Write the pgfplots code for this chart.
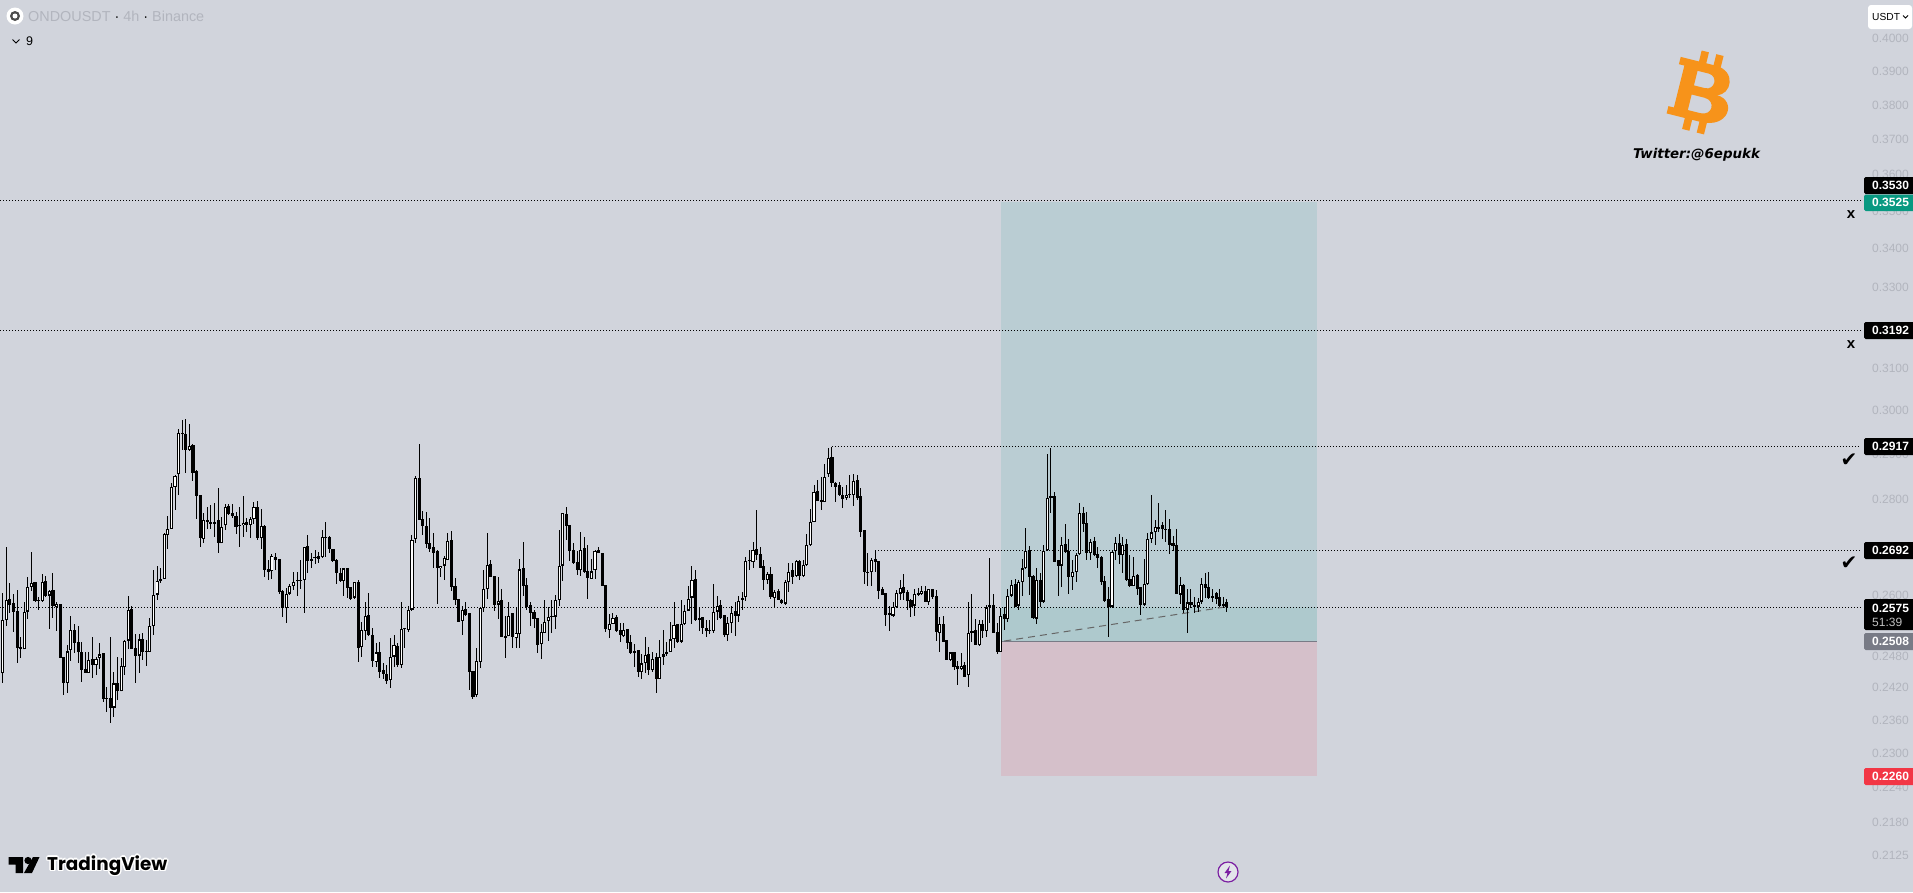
\documentclass[border=0pt]{standalone}
\usepackage{pgfplots}
\usepackage{pgfplotstable}
\usepackage{fontspec}
\pgfplotsset{compat=1.18}
\setmainfont{Liberation Sans}
\newfontfamily\dejavu{DejaVu Sans}
\newfontfamily\pop{Poppins}
\definecolor{bg}{RGB}{209,212,220}
\definecolor{tick}{RGB}{178,181,190}
\definecolor{zoneG}{RGB}{186,205,211}
\definecolor{zoneD}{RGB}{174,201,205}
\definecolor{zoneR}{RGB}{213,192,202}
\definecolor{tagG}{RGB}{8,153,129}
\definecolor{tagR}{RGB}{242,54,69}
\definecolor{tagK}{RGB}{120,123,134}
\definecolor{btc}{RGB}{247,147,26}
\definecolor{purp}{RGB}{123,31,162}
\pgfplotstableread{
i o h l c
0 .2447 .2605 .2428 .2550
1 .2550 .2699 .2538 .2590
2 .2590 .2625 .2564 .2581
3 .2582 .2603 .2526 .2566
4 .2566 .2611 .2466 .2495
5 .2496 .2517 .2477 .2495
6 .2493 .2586 .2493 .2567
7 .2567 .2637 .2553 .2617
8 .2617 .2688 .2609 .2625
9 .2626 .2626 .2587 .2589
10 .2588 .2597 .2570 .2589
11 .2588 .2642 .2587 .2627
12 .2627 .2638 .2597 .2598
13 .2599 .2610 .2533 .2608
14 .2608 .2644 .2554 .2579
15 .2577 .2587 .2529 .2583
16 .2581 .2583 .2477 .2477
17 .2477 .2477 .2406 .2428
18 .2429 .2501 .2410 .2489
19 .2491 .2558 .2471 .2531
20 .2530 .2543 .2485 .2506
21 .2506 .2539 .2466 .2487
22 .2487 .2508 .2431 .2454
23 .2454 .2487 .2448 .2448
24 .2448 .2488 .2448 .2473
25 .2473 .2516 .2438 .2462
26 .2462 .2479 .2443 .2475
27 .2477 .2506 .2456 .2483
28 .2484 .2485 .2394 .2399
29 .2399 .2422 .2375 .2401
30 .2400 .2516 .2355 .2383
31 .2383 .2449 .2366 .2428
32 .2428 .2479 .2397 .2413
33 .2413 .2476 .2413 .2461
34 .2459 .2511 .2443 .2510
35 .2510 .2599 .2493 .2571
36 .2571 .2578 .2493 .2493
37 .2495 .2522 .2429 .2481
38 .2481 .2522 .2448 .2512
39 .2512 .2524 .2472 .2487
40 .2488 .2511 .2461 .2489
41 .2488 .2555 .2488 .2539
42 .2539 .2651 .2520 .2601
43 .2601 .2659 .2590 .2629
44 .2628 .2654 .2625 .2633
45 .2633 .2727 .2633 .2725
46 .2724 .2763 .2695 .2737
47 .2737 .2835 .2737 .2827
48 .2827 .2853 .2777 .2851
49 .2855 .2957 .2810 .2948
50 .2946 .2977 .2909 .2948
51 .2943 .2979 .2858 .2909
52 .2909 .2968 .2907 .2919
53 .2920 .2922 .2841 .2858
54 .2861 .2865 .2758 .2808
55 .2808 .2808 .2699 .2718
56 .2716 .2770 .2707 .2756
57 .2754 .2783 .2737 .2751
58 .2751 .2788 .2737 .2748
59 .2748 .2791 .2720 .2751
60 .2754 .2824 .2686 .2706
61 .2706 .2762 .2706 .2741
62 .2744 .2790 .2734 .2784
63 .2785 .2790 .2766 .2768
64 .2770 .2790 .2759 .2763
65 .2763 .2772 .2726 .2741
66 .2744 .2784 .2699 .2743
67 .2744 .2808 .2720 .2750
68 .2750 .2759 .2731 .2744
69 .2745 .2762 .2718 .2757
70 .2757 .2794 .2748 .2783
71 .2783 .2796 .2714 .2717
72 .2718 .2779 .2694 .2743
73 .2742 .2744 .2637 .2651
74 .2652 .2671 .2630 .2646
75 .2648 .2683 .2633 .2679
76 .2676 .2686 .2650 .2671
77 .2672 .2672 .2603 .2606
78 .2607 .2610 .2557 .2574
79 .2573 .2615 .2545 .2603
80 .2603 .2622 .2601 .2619
81 .2618 .2647 .2610 .2627
82 .2628 .2647 .2598 .2630
83 .2630 .2671 .2613 .2631
84 .2630 .2699 .2565 .2698
85 .2700 .2723 .2644 .2670
86 .2670 .2685 .2655 .2674
87 .2675 .2693 .2664 .2677
88 .2674 .2688 .2665 .2679
89 .2678 .2735 .2677 .2719
90 .2719 .2751 .2678 .2720
91 .2719 .2721 .2686 .2694
92 .2694 .2694 .2668 .2669
93 .2671 .2674 .2623 .2644
94 .2643 .2654 .2627 .2628
95 .2628 .2654 .2598 .2654
96 .2654 .2656 .2594 .2615
97 .2615 .2617 .2590 .2593
98 .2595 .2626 .2593 .2626
99 .2626 .2630 .2469 .2496
100 .2498 .2547 .2479 .2530
101 .2529 .2586 .2511 .2558
102 .2558 .2605 .2519 .2520
103 .2520 .2534 .2459 .2471
104 .2469 .2506 .2459 .2487
105 .2487 .2507 .2439 .2450
106 .2453 .2466 .2437 .2445
107 .2445 .2462 .2427 .2433
108 .2435 .2514 .2419 .2479
109 .2479 .2521 .2459 .2501
110 .2499 .2505 .2459 .2462
111 .2463 .2586 .2458 .2533
112 .2533 .2534 .2495 .2534
113 .2531 .2578 .2527 .2571
114 .2571 .2723 .2569 .2714
115 .2716 .2851 .2707 .2846
116 .2846 .2922 .2755 .2755
117 .2756 .2774 .2724 .2742
118 .2742 .2773 .2696 .2705
119 .2705 .2759 .2688 .2695
120 .2697 .2727 .2656 .2686
121 .2690 .2692 .2583 .2654
122 .2654 .2660 .2637 .2660
123 .2660 .2679 .2630 .2675
124 .2672 .2727 .2672 .2712
125 .2712 .2733 .2609 .2617
126 .2618 .2634 .2580 .2590
127 .2590 .2593 .2547 .2547
128 .2549 .2578 .2520 .2570
129 .2570 .2587 .2558 .2561
130 .2562 .2562 .2415 .2450
131 .2451 .2451 .2399 .2403
132 .2406 .2496 .2402 .2470
133 .2469 .2575 .2457 .2574
134 .2574 .2651 .2566 .2613
135 .2613 .2727 .2593 .2662
136 .2663 .2671 .2636 .2637
137 .2638 .2638 .2569 .2580
138 .2581 .2636 .2553 .2589
139 .2589 .2613 .2516 .2517
140 .2517 .2558 .2476 .2516
141 .2518 .2587 .2518 .2559
142 .2562 .2562 .2495 .2516
143 .2514 .2575 .2495 .2525
144 .2523 .2673 .2496 .2652
145 .2654 .2708 .2598 .2618
146 .2619 .2634 .2571 .2575
147 .2579 .2587 .2538 .2565
148 .2565 .2570 .2534 .2553
149 .2553 .2555 .2485 .2502
150 .2503 .2542 .2475 .2526
151 .2525 .2591 .2525 .2547
152 .2549 .2575 .2510 .2557
153 .2557 .2591 .2525 .2558
154 .2557 .2601 .2533 .2590
155 .2590 .2735 .2579 .2660
156 .2660 .2770 .2629 .2770
157 .2768 .2783 .2713 .2743
158 .2743 .2743 .2670 .2691
159 .2692 .2706 .2664 .2666
160 .2666 .2691 .2640 .2650
161 .2650 .2730 .2638 .2693
162 .2695 .2720 .2644 .2647
163 .2647 .2702 .2593 .2635
164 .2633 .2673 .2633 .2648
165 .2650 .2693 .2633 .2691
166 .2691 .2698 .2686 .2686
167 .2685 .2685 .2618 .2619
168 .2619 .2619 .2527 .2533
169 .2531 .2563 .2514 .2543
170 .2543 .2565 .2543 .2555
171 .2555 .2560 .2527 .2529
172 .2529 .2545 .2508 .2521
173 .2518 .2545 .2516 .2531
174 .2531 .2533 .2493 .2505
175 .2505 .2520 .2484 .2485
176 .2485 .2503 .2460 .2490
177 .2491 .2492 .2441 .2450
178 .2450 .2484 .2436 .2466
179 .2466 .2516 .2448 .2482
180 .2483 .2497 .2443 .2454
181 .2454 .2488 .2450 .2475
182 .2477 .2485 .2411 .2436
183 .2437 .2511 .2437 .2479
184 .2479 .2530 .2463 .2484
185 .2484 .2508 .2480 .2488
186 .2488 .2547 .2488 .2512
187 .2512 .2586 .2496 .2541
188 .2542 .2542 .2506 .2508
189 .2508 .2590 .2505 .2543
190 .2543 .2580 .2542 .2569
191 .2569 .2619 .2569 .2593
192 .2595 .2659 .2543 .2631
193 .2631 .2651 .2549 .2550
194 .2553 .2577 .2529 .2550
195 .2554 .2555 .2523 .2534
196 .2533 .2550 .2517 .2529
197 .2529 .2550 .2522 .2530
198 .2529 .2622 .2524 .2567
199 .2567 .2599 .2550 .2579
200 .2579 .2590 .2553 .2554
201 .2558 .2559 .2516 .2521
202 .2521 .2557 .2510 .2545
203 .2545 .2579 .2524 .2565
204 .2566 .2586 .2519 .2559
205 .2559 .2598 .2547 .2589
206 .2593 .2607 .2570 .2590
207 .2596 .2678 .2589 .2670
208 .2670 .2692 .2651 .2671
209 .2668 .2709 .2656 .2693
210 .2693 .2777 .2671 .2681
211 .2682 .2699 .2654 .2655
212 .2657 .2671 .2611 .2631
213 .2631 .2647 .2622 .2642
214 .2642 .2658 .2593 .2596
215 .2594 .2610 .2575 .2607
216 .2606 .2613 .2590 .2591
217 .2589 .2593 .2582 .2583
218 .2583 .2630 .2582 .2627
219 .2627 .2666 .2606 .2647
220 .2649 .2666 .2623 .2637
221 .2639 .2671 .2637 .2669
222 .2669 .2671 .2630 .2639
223 .2639 .2672 .2638 .2662
224 .2662 .2726 .2660 .2702
225 .2702 .2780 .2700 .2751
226 .2751 .2831 .2751 .2815
227 .2816 .2842 .2796 .2796
228 .2797 .2848 .2777 .2795
229 .2795 .2877 .2795 .2849
230 .2855 .2913 .2849 .2892
231 .2892 .2916 .2826 .2835
232 .2835 .2838 .2795 .2827
233 .2829 .2838 .2807 .2809
234 .2808 .2827 .2781 .2801
235 .2803 .2831 .2799 .2810
236 .2811 .2853 .2802 .2810
237 .2809 .2856 .2786 .2840
238 .2840 .2853 .2798 .2803
239 .2806 .2824 .2720 .2730
240 .2732 .2732 .2623 .2646
241 .2646 .2685 .2619 .2645
242 .2646 .2675 .2619 .2671
243 .2672 .2692 .2646 .2668
244 .2669 .2670 .2593 .2609
245 .2611 .2617 .2601 .2601
246 .2602 .2602 .2538 .2561
247 .2562 .2579 .2529 .2561
248 .2559 .2587 .2557 .2576
249 .2576 .2610 .2573 .2605
250 .2603 .2630 .2590 .2615
251 .2615 .2642 .2590 .2605
252 .2605 .2610 .2571 .2589
253 .2589 .2593 .2557 .2575
254 .2579 .2613 .2558 .2602
255 .2603 .2615 .2599 .2602
256 .2603 .2618 .2601 .2609
257 .2607 .2619 .2585 .2585
258 .2585 .2613 .2581 .2613
259 .2612 .2613 .2593 .2597
260 .2597 .2610 .2510 .2527
261 .2524 .2557 .2487 .2543
262 .2541 .2558 .2508 .2508
263 .2510 .2511 .2472 .2473
264 .2473 .2488 .2472 .2487
265 .2486 .2487 .2453 .2459
266 .2460 .2471 .2425 .2455
267 .2455 .2485 .2454 .2461
268 .2462 .2469 .2441 .2441
269 .2443 .2587 .2421 .2524
270 .2525 .2603 .2508 .2529
271 .2530 .2553 .2502 .2502
272 .2501 .2550 .2500 .2542
273 .2541 .2551 .2514 .2529
274 .2529 .2580 .2516 .2575
275 .2578 .2675 .2545 .2577
276 .2578 .2603 .2524 .2525
277 .2526 .2545 .2483 .2487
278 .2488 .2573 .2488 .2559
279 .2561 .2575 .2530 .2552
280 .2552 .2613 .2547 .2599
281 .2599 .2631 .2598 .2620
282 .2621 .2633 .2577 .2577
283 .2579 .2630 .2571 .2627
284 .2627 .2674 .2598 .2654
285 .2654 .2738 .2653 .2691
286 .2691 .2700 .2600 .2637
287 .2638 .2640 .2553 .2554
288 .2553 .2654 .2543 .2630
289 .2629 .2644 .2577 .2587
290 .2587 .2702 .2585 .2691
291 .2692 .2900 .2691 .2802
292 .2806 .2913 .2770 .2805
293 .2806 .2816 .2668 .2668
294 .2671 .2671 .2599 .2660
295 .2660 .2719 .2617 .2703
296 .2703 .2747 .2687 .2689
297 .2688 .2716 .2603 .2637
298 .2637 .2671 .2610 .2647
299 .2647 .2685 .2627 .2681
300 .2683 .2793 .2681 .2770
301 .2770 .2784 .2729 .2748
302 .2748 .2773 .2672 .2685
303 .2685 .2716 .2671 .2710
304 .2709 .2719 .2680 .2681
305 .2682 .2699 .2656 .2675
306 .2677 .2679 .2620 .2626
307 .2628 .2638 .2587 .2589
308 .2590 .2617 .2516 .2575
309 .2577 .2691 .2573 .2689
310 .2690 .2719 .2671 .2706
311 .2706 .2726 .2664 .2681
312 .2681 .2720 .2644 .2703
313 .2704 .2715 .2629 .2630
314 .2631 .2681 .2617 .2618
315 .2618 .2678 .2618 .2639
316 .2640 .2642 .2601 .2613
317 .2615 .2617 .2561 .2581
318 .2581 .2674 .2579 .2623
319 .2623 .2727 .2622 .2716
320 .2716 .2809 .2706 .2729
321 .2729 .2755 .2702 .2740
322 .2737 .2791 .2729 .2741
323 .2744 .2751 .2716 .2737
324 .2736 .2776 .2709 .2735
325 .2735 .2758 .2683 .2703
326 .2706 .2721 .2691 .2700
327 .2702 .2737 .2602 .2602
328 .2601 .2636 .2582 .2620
329 .2620 .2623 .2565 .2571
330 .2571 .2613 .2525 .2585
331 .2585 .2612 .2573 .2580
332 .2579 .2597 .2565 .2577
333 .2577 .2594 .2566 .2587
334 .2587 .2635 .2583 .2623
335 .2622 .2644 .2595 .2615
336 .2616 .2647 .2593 .2595
337 .2595 .2613 .2587 .2599
338 .2602 .2607 .2582 .2593
339 .2595 .2613 .2577 .2579
340 .2579 .2597 .2573 .2583
341 .2584 .2593 .2566 .2575
}\candles
\begin{document}
\begin{tikzpicture}
\fill[bg] (0pt,0pt) rectangle (1913pt,-892pt);
\useasboundingbox (0pt,0pt) rectangle (1913pt,-892pt);
\begin{axis}[
  at={(0pt,0pt)}, anchor=north west,
  scale only axis, width=1913pt, height=892pt,
  xmin=-0.752, xmax=532.117,
  ymode=log, ymin=0.2066, ymax=0.4121,
  axis line style={draw=none},
  xtick=\empty,
  ytick={0.4,0.39,0.38,0.37,0.36,0.35,0.34,0.33,0.32,0.31,0.30,0.29,0.28,0.26,0.248,0.242,0.236,0.23,0.224,0.218,0.2125},
  yticklabels={0.4000,0.3900,0.3800,0.3700,0.3600,0.3500,0.3400,0.3300,0.3200,0.3100,0.3000,0.2900,0.2800,0.2600,0.2480,0.2420,0.2360,0.2300,0.2240,0.2180,0.2125},
  minor y tick num=0, 
  yticklabel pos=right,
  tick style={draw=none},
  major tick length=0pt,
  yticklabel style={anchor=east, xshift=-4pt, text=tick, font=\fontsize{12}{12}\selectfont, inner sep=0pt},
  unbounded coords=discard,
]
% position zones
\addplot[fill=zoneG, draw=none] coordinates {(278.07,0.2575)(366.1,0.2575)(366.1,0.3525)(278.07,0.3525)} --cycle;
\addplot[fill=zoneD, draw=none] coordinates {(278.07,0.2508)(366.1,0.2508)(366.1,0.2575)(278.07,0.2575)} --cycle;
\addplot[fill=zoneR, draw=none] coordinates {(278.07,0.2260)(366.1,0.2260)(366.1,0.2508)(278.07,0.2508)} --cycle;
\addplot[tagK, line width=1pt] coordinates {(278.07,0.2508)(366.1,0.2508)};
% levels
\addplot[black, line width=0.8pt, dash pattern=on 1.2pt off 1.8pt] coordinates {(-0.752,0.3530)(517.4,0.3530)};
\addplot[black, line width=0.8pt, dash pattern=on 1.2pt off 1.8pt] coordinates {(-0.752,0.3192)(517.4,0.3192)};
\addplot[black, line width=0.8pt, dash pattern=on 1.2pt off 1.8pt] coordinates {(231,0.2917)(517.4,0.2917)};
\addplot[black, line width=0.8pt, dash pattern=on 1.2pt off 1.8pt] coordinates {(243,0.2692)(517.4,0.2692)};
\addplot[black, line width=0.8pt, dash pattern=on 1.2pt off 1.8pt] coordinates {(-0.752,0.2575)(517.4,0.2575)};
% trend
\addplot[gray!80!black, line width=1pt, dash pattern=on 7pt off 5pt] coordinates {(279,0.2509)(340.5,0.2576)};
% wicks
\addplot[draw=none, mark=none, error bars/.cd, y dir=both, y explicit, error mark=none,
   error bar style={black, line width=1pt}]
   table[x=i, y=o, y error plus expr={\thisrow{h}-\thisrow{o}}, y error minus expr={\thisrow{o}-\thisrow{l}}] {\candles};
% bodies
\addplot[draw=none, mark=none, error bars/.cd, y dir=both, y explicit, error mark=none,
   error bar style={black, line width=3.1pt}]
   table[x=i, y=o, y error plus expr={max(\thisrow{c}-\thisrow{o},0.00012)}, y error minus expr={max(\thisrow{o}-\thisrow{c},0)}] {\candles};
% hollow interior of the rising candles
\addplot[draw=none, mark=none, error bars/.cd, y dir=plus, y explicit, error mark=none,
   error bar style={white, line width=1.15pt}]
   table[x expr={\thisrow{c}-\thisrow{o}>0.0005 ? \thisrow{i} : nan}, y expr={\thisrow{o}+0.00022}, y error plus expr={\thisrow{c}-\thisrow{o}-0.00044}] {\candles};
\end{axis}
\begin{scope}[x=1pt,y=-1pt]
  % price tags
  \newcommand{\tagbox}[4]{\fill[#1,rounded corners=1.5pt] (1864,#2) rectangle (1915,#3);
    \node[anchor=west,text=white,inner sep=0pt,font=\fontsize{12}{12}\bfseries\selectfont] at (1872,{(#2+#3)/2}) {#4};}
  \tagbox{black}{177}{194}{0.3530}
  \tagbox{tagG}{194.5}{211}{0.3525}
  \tagbox{black}{322}{339}{0.3192}
  \tagbox{black}{438}{455}{0.2917}
  \tagbox{black}{542}{559}{0.2692}
  \fill[black,rounded corners=1.5pt] (1864,599) rectangle (1915,630);
  \node[anchor=west,text=white,inner sep=0pt,font=\fontsize{12}{12}\bfseries\selectfont] at (1872,608) {0.2575};
  \node[anchor=west,text=white!75!black,inner sep=0pt,font=\fontsize{12}{12}\selectfont] at (1872,622) {51:39};
  \tagbox{tagK}{633}{650}{0.2508}
  \tagbox{tagR}{768}{785}{0.2260}
  % position markers
  \node[font=\fontsize{15}{15}\bfseries\selectfont,inner sep=0pt] at (1851,214.5) {x};
  \node[font=\fontsize{15}{15}\bfseries\selectfont,inner sep=0pt] at (1851,344.5) {x};
  \node[font=\dejavu\fontsize{20}{20}\selectfont,inner sep=0pt] at (1849,460) {✔};
  \node[font=\dejavu\fontsize{20}{20}\selectfont,inner sep=0pt] at (1849,563) {✔};
  % header
  \fill[white] (15,16) circle (8.5);
  \fill[black!70] (15,16) circle (5);
  \fill[white] (15,16) circle (2.5);
  \node[anchor=west,inner sep=0pt,text=tick,font=\fontsize{14.4}{14.4}\selectfont] at (28,16.5) {ONDOUSDT \textcolor{black}{·} 4h \textcolor{black}{·} Binance};
  \draw[black,line width=1pt] (12.5,39.5) -- (16,43) -- (19.5,39.5);
  \node[anchor=west,inner sep=0pt,text=black,font=\fontsize{12.5}{12.5}\selectfont] at (26,41) {9};
  % currency button
  \fill[white,rounded corners=3pt] (1868,5) rectangle (1912,29);
  \node[anchor=west,inner sep=0pt,text=black,font=\fontsize{10.2}{10.2}\selectfont] at (1872,17) {USDT};
  \draw[black,line width=.8pt] (1903,15.5) -- (1905.5,18) -- (1908,15.5);
  % twitter
  \node[inner sep=0pt,text=black,font=\dejavu\fontsize{13.4}{13.4}\bfseries\itshape\selectfont] at (1696.5,155) {Twitter:@6epukk};
  % TradingView logo
  \foreach \dx/\dy in {-1.6/0,1.6/0,0/-1.6,0/1.6,-1.1/-1.1,1.1/1.1,-1.1/1.1,1.1/-1.1}{
    \node[anchor=west,inner sep=0pt,text=white,font=\pop\fontsize{18.4}{18.4}\bfseries\selectfont] at (47+\dx,865.5+\dy) {TradingView};
  }
  \node[anchor=west,inner sep=0pt,text=black,font=\pop\fontsize{18.4}{18.4}\bfseries\selectfont] at (47,865.5) {TradingView};
  \fill[black] (8.5,857) -- (23,857) -- (23,873) -- (15.5,873) -- (15.5,864.5) -- (8.5,864.5) -- cycle;
  \fill[black] (28,860.5) circle (3.6);
  \fill[black] (33,857) -- (39.5,857) -- (32,873) -- (24,873) -- cycle;
  % purple badge
  \draw[purp,line width=1.2pt,fill=white!40!bg] (1228,872) circle (10);
  \fill[purp] (1230,865.5) -- (1224.5,873) -- (1227.5,873) -- (1226,878.5) -- (1231.5,871) -- (1228.5,871) -- cycle;
\end{scope}
% bitcoin logo
\begin{scope}[shift={(1701pt,-92pt)},rotate=-14,x=0.94pt,y=0.94pt]
  \fill[btc,even odd rule]
    (-30,31) -- (8,31) .. controls (32,31) and (32,4) .. (17,1) .. controls (40,0) and (38,-31) .. (7,-31) -- (-30,-31) -- (-30,-23) -- (-24,-23) -- (-24,23) -- (-30,23) -- cycle
    (-9,21) -- (3,21) .. controls (14,21) and (14,5) .. (3,5) -- (-9,5) -- cycle
    (-9,-5) -- (5,-5) .. controls (18,-5) and (18,-22) .. (5,-22) -- (-9,-22) -- cycle;
  \fill[btc] (-10,30) rectangle (-2,43);
  \fill[btc] (6,30) rectangle (14,43);
  \fill[btc] (-10,-30) rectangle (-2,-43);
  \fill[btc] (6,-30) rectangle (14,-43);
\end{scope}
\end{tikzpicture}
\end{document}
